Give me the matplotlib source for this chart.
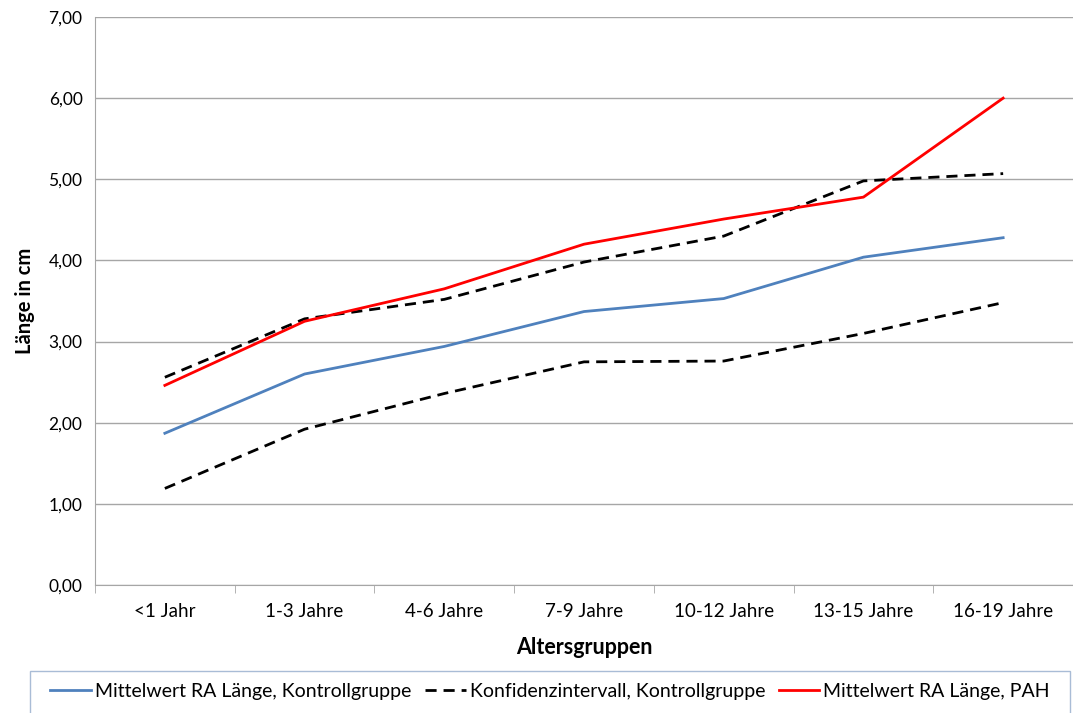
import matplotlib.pyplot as plt
from matplotlib.patches import Rectangle
from matplotlib.ticker import FuncFormatter, MultipleLocator

AGE_GROUPS = ["<1 Jahr", "1-3 Jahre", "4-6 Jahre", "7-9 Jahre", "10-12 Jahre", "13-15 Jahre", "16-19 Jahre"]
MEAN_CONTROL = [1.87, 2.60, 2.94, 3.37, 3.53, 4.04, 4.28]
CI_UPPER = [2.56, 3.28, 3.52, 3.98, 4.30, 4.98, 5.07]
CI_LOWER = [1.19, 1.92, 2.36, 2.75, 2.76, 3.10, 3.48]
MEAN_PAH = [2.46, 3.25, 3.65, 4.20, 4.51, 4.78, 6.00]

plt.rcParams["font.family"] = ["Lato", "DejaVu Sans"]

fig = plt.figure(figsize=(10.73, 7.13), dpi=100)
ax = fig.add_axes([95 / 1073, 1 - 585 / 713, 978 / 1073, 568 / 713])

x = range(len(AGE_GROUPS))
ax.plot(x, MEAN_CONTROL, color="#4f81bd", lw=2, label="Mittelwert RA Länge, Kontrollgruppe")
ax.plot(x, CI_UPPER, color="black", lw=2, dashes=(4, 2.5), label="Konfidenzintervall, Kontrollgruppe")
ax.plot(x, CI_LOWER, color="black", lw=2, dashes=(4, 2.5))
ax.plot(x, MEAN_PAH, color="#ff0000", lw=2, label="Mittelwert RA Länge, PAH")

ax.set_xlim(-0.5, len(AGE_GROUPS) - 0.5)
ax.set_ylim(0, 7)
ax.yaxis.set_major_locator(MultipleLocator(1))
ax.yaxis.set_major_formatter(FuncFormatter(lambda v, _p: f"{v:.2f}".replace(".", ",")))
ax.grid(axis="y", color="#a6a6a6", lw=1)
ax.set_axisbelow(True)

ax.set_xticks(list(x))
ax.set_xticklabels(AGE_GROUPS)
ax.set_xticks([i - 0.5 for i in range(len(AGE_GROUPS) + 1)], minor=True)
ax.tick_params(axis="x", which="major", length=0, pad=13, labelsize=13.5)
ax.tick_params(axis="x", which="minor", length=6, color="#a6a6a6", direction="out")
ax.tick_params(axis="y", length=0, pad=9, labelsize=12.5)

for side in ["top", "right"]:
    ax.spines[side].set_visible(False)
for side in ["left", "bottom"]:
    ax.spines[side].set_color("#a6a6a6")

ax.set_xlabel("Altersgruppen", fontsize=15.5, fontweight="bold", labelpad=12)
ax.set_ylabel("Länge in cm", fontsize=14.5, fontweight="bold", labelpad=10)

fig.patches.append(
    Rectangle((30 / 1073, -0.01), 1040 / 1073, (713 - 671) / 713 + 0.01,
              transform=fig.transFigure, fill=False, edgecolor="#a9bcd6", lw=1)
)
handles, labels = ax.get_legend_handles_labels()
fig.legend(handles, labels, loc="center", bbox_to_anchor=(550 / 1073, 1 - 691 / 713),
           ncol=3, frameon=False, fontsize=14, handlelength=2.1, columnspacing=0.7,
           handletextpad=0.2)

fig.savefig("out.png", dpi=100)
